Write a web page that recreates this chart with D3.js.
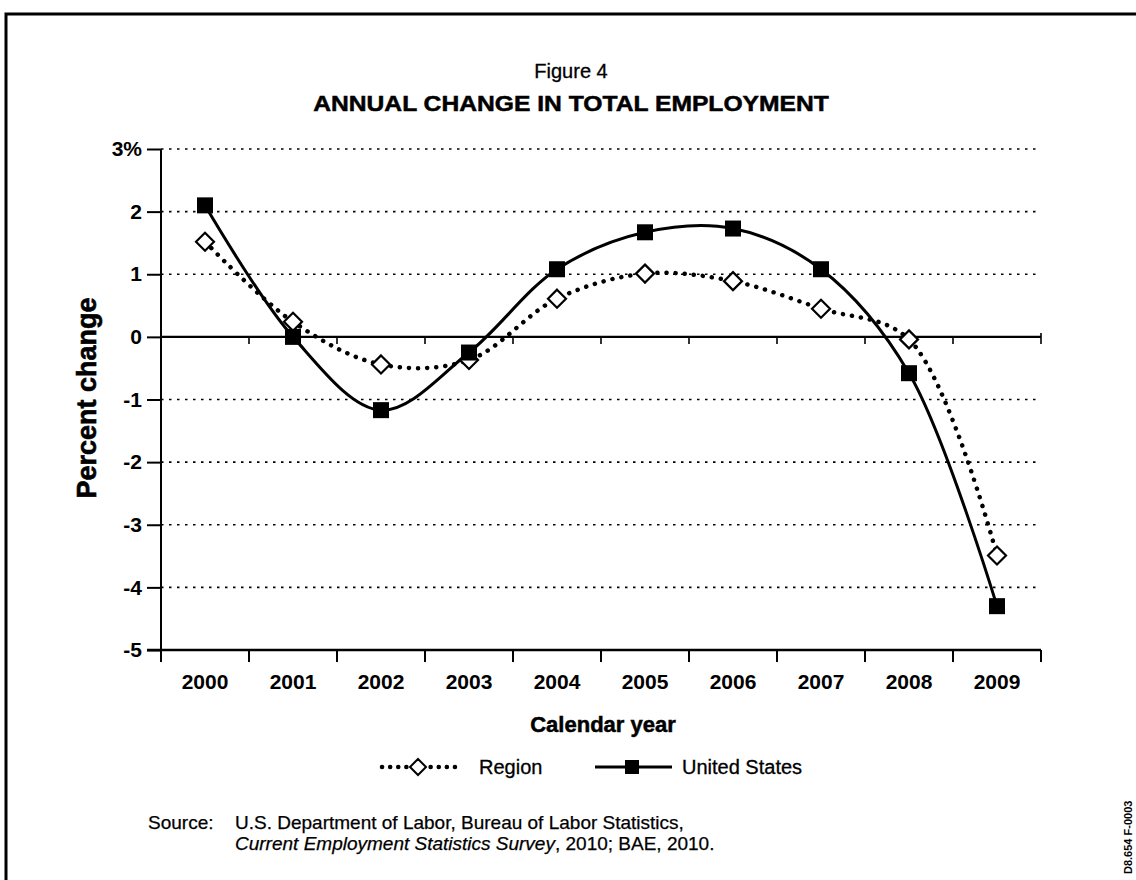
<!DOCTYPE html>
<html>
<head>
<meta charset="utf-8">
<script src="https://cdn.jsdelivr.net/npm/d3@7"></script>
<style>
  body { margin: 0; background: #fff; }
  text { font-family: "Liberation Sans", Arial, Helvetica, sans-serif; fill: #000; }
</style>
</head>
<body>
<svg id="chart" width="1136" height="880"></svg>
<script>
// ---- data ----
const years = ["2000", "2001", "2002", "2003", "2004", "2005", "2006", "2007", "2008", "2009"];
const regionValues = [1.52, 0.24, -0.44, -0.37, 0.61, 1.01, 0.89, 0.45, -0.04, -3.49];
const usValues = [2.1, 0.0, -1.17, -0.25, 1.08, 1.67, 1.73, 1.08, -0.58, -4.3];
const yTickValues = [3, 2, 1, 0, -1, -2, -3, -4, -5];
const yTickLabels = ["3%", "2", "1", "0", "-1", "-2", "-3", "-4", "-5"];
const seriesNames = ["Region", "United States"];

const svg = d3.select("#chart");

// stretch a text horizontally by factor k
function widen(sel, k) {
  sel.each(function () {
    const w = this.getComputedTextLength();
    d3.select(this).attr("textLength", w * k).attr("lengthAdjust", "spacingAndGlyphs");
  });
  return sel;
}

// ---- frame ----
svg.append("path")
  .attr("d", "M6,880 V14 H1136")
  .attr("fill", "none").attr("stroke", "#000").attr("stroke-width", 3);

// ---- titles ----
svg.append("text").attr("x", 571).attr("y", 78).attr("text-anchor", "middle")
  .attr("font-size", 20).attr("stroke", "#000").attr("stroke-width", 0.3).text("Figure 4");
widen(svg.append("text").attr("x", 571).attr("y", 111).attr("text-anchor", "middle")
  .attr("font-size", 22).attr("font-weight", "bold").attr("stroke", "#000").attr("stroke-width", 0.5)
  .text("ANNUAL CHANGE IN TOTAL EMPLOYMENT"), 1.12);

// ---- scales ----
const x = d3.scaleBand().domain(years).range([161, 1041]);
const y = d3.scaleLinear().domain([-5, 3]).range([650, 149]);
const xc = d => x(d) + x.bandwidth() / 2;

const plot = svg.append("g");

// gridlines (dotted) except the zero line and the bottom axis
plot.append("g").selectAll("line")
  .data(yTickValues.filter(v => v !== 0 && v !== -5))
  .join("line")
  .attr("x1", 161).attr("x2", 1041)
  .attr("y1", d => y(d)).attr("y2", d => y(d))
  .attr("stroke", "#000").attr("stroke-width", 1.6)
  .attr("stroke-dasharray", "2.5,5.5");

// y axis
const yAxis = d3.axisLeft(y).tickValues(yTickValues).tickSize(14)
  .tickFormat(d => yTickLabels[yTickValues.indexOf(d)]);
const gy = plot.append("g").attr("transform", "translate(161,0)").call(yAxis);
gy.select(".domain").attr("stroke", "#000").attr("stroke-width", 2).attr("d", `M0,${y(3)}V${y(-5)}`);
gy.selectAll(".tick line").attr("stroke", "#000").attr("stroke-width", 2);
gy.selectAll(".tick text").attr("x", -19).attr("font-size", 21).attr("font-weight", "bold")
  .attr("font-family", "Liberation Sans, Arial, sans-serif").attr("fill", "#000");

// zero line with small ticks at category boundaries
const zeroY = y(0);
plot.append("line").attr("x1", 161).attr("x2", 1041).attr("y1", zeroY).attr("y2", zeroY)
  .attr("stroke", "#000").attr("stroke-width", 2.2);
plot.append("g").selectAll("line").data(years.slice(1)).join("line")
  .attr("x1", d => x(d)).attr("x2", d => x(d))
  .attr("y1", zeroY).attr("y2", zeroY + 7)
  .attr("stroke", "#000").attr("stroke-width", 1.6);
plot.append("line").attr("x1", 1041).attr("x2", 1041).attr("y1", zeroY - 4).attr("y2", zeroY + 7)
  .attr("stroke", "#000").attr("stroke-width", 1.6);

// x axis at the bottom
const xAxis = d3.axisBottom(x).tickSize(0).tickPadding(24);
const gx = plot.append("g").attr("transform", `translate(0,${y(-5)})`).call(xAxis);
gx.select(".domain").attr("stroke", "#000").attr("stroke-width", 2.4)
  .attr("d", `M147,0H1041`);
gx.selectAll(".tick text").attr("font-size", 21).attr("font-weight", "bold")
  .attr("font-family", "Liberation Sans, Arial, sans-serif").attr("fill", "#000");
plot.append("g").selectAll("line").data(years.concat(["end"])).join("line")
  .attr("x1", d => d === "end" ? 1041 : x(d)).attr("x2", d => d === "end" ? 1041 : x(d))
  .attr("y1", y(-5)).attr("y2", y(-5) + 12)
  .attr("stroke", "#000").attr("stroke-width", 2);

// axis titles
svg.append("text").attr("transform", "translate(96,398) rotate(-90)")
  .attr("text-anchor", "middle").attr("font-size", 27).attr("font-weight", "bold")
  .attr("stroke", "#000").attr("stroke-width", 0.6)
  .text("Percent change");
svg.append("text").attr("x", 603).attr("y", 732).attr("text-anchor", "middle")
  .attr("font-size", 22).attr("font-weight", "bold").attr("stroke", "#000").attr("stroke-width", 0.5)
  .text("Calendar year");

// ---- series ----
const line = d3.line().x((d, i) => xc(years[i])).y(d => y(d)).curve(d3.curveCatmullRom.alpha(0.5));

plot.append("path").datum(regionValues).attr("d", line)
  .attr("fill", "none").attr("stroke", "#000").attr("stroke-width", 4.5)
  .attr("stroke-linecap", "round").attr("stroke-dasharray", "0.1,9");
plot.append("path").datum(usValues).attr("d", line)
  .attr("fill", "none").attr("stroke", "#000").attr("stroke-width", 3);

const diamond = s => `M0,${-s}L${s},0L0,${s}L${-s},0Z`;
plot.append("g").selectAll("path").data(regionValues).join("path")
  .attr("transform", (d, i) => `translate(${xc(years[i])},${y(d)})`)
  .attr("d", diamond(9)).attr("fill", "#fff").attr("stroke", "#000").attr("stroke-width", 2.2);
plot.append("g").selectAll("rect").data(usValues).join("rect")
  .attr("x", (d, i) => xc(years[i]) - 8).attr("y", d => y(d) - 8)
  .attr("width", 16).attr("height", 16).attr("fill", "#000");

// ---- legend ----
const leg = svg.append("g").attr("transform", "translate(0,767)");
leg.append("line").attr("x1", 382).attr("x2", 456).attr("stroke", "#000")
  .attr("stroke-width", 4.5).attr("stroke-linecap", "round").attr("stroke-dasharray", "0.1,8");
leg.append("path").attr("transform", "translate(418,0)").attr("d", diamond(8))
  .attr("fill", "#fff").attr("stroke", "#000").attr("stroke-width", 2);
leg.append("text").attr("x", 479).attr("y", 7).attr("font-size", 20)
  .attr("stroke", "#000").attr("stroke-width", 0.3).text(seriesNames[0]);
leg.append("line").attr("x1", 595).attr("x2", 672).attr("stroke", "#000").attr("stroke-width", 3);
leg.append("rect").attr("x", 625).attr("y", -7).attr("width", 14).attr("height", 14).attr("fill", "#000");
leg.append("text").attr("x", 682).attr("y", 7).attr("font-size", 20)
  .attr("stroke", "#000").attr("stroke-width", 0.3).text(seriesNames[1]);

// ---- source note ----
const src = svg.append("g").attr("font-size", 19).attr("stroke", "#000").attr("stroke-width", 0.25);
src.append("text").attr("x", 148).attr("y", 829).text("Source:");
src.append("text").attr("x", 235).attr("y", 829)
  .text("U.S. Department of Labor, Bureau of Labor Statistics,");
const l2 = src.append("text").attr("x", 235).attr("y", 850);
l2.append("tspan").attr("font-style", "italic").text("Current Employment Statistics Survey");
l2.append("tspan").text(", 2010; BAE, 2010.");

// document code in the margin
svg.append("text").attr("transform", "translate(1132,874) rotate(-90)")
  .attr("font-size", 11).attr("font-weight", "bold").text("D8.654 F-0003");
</script>
</body>
</html>
